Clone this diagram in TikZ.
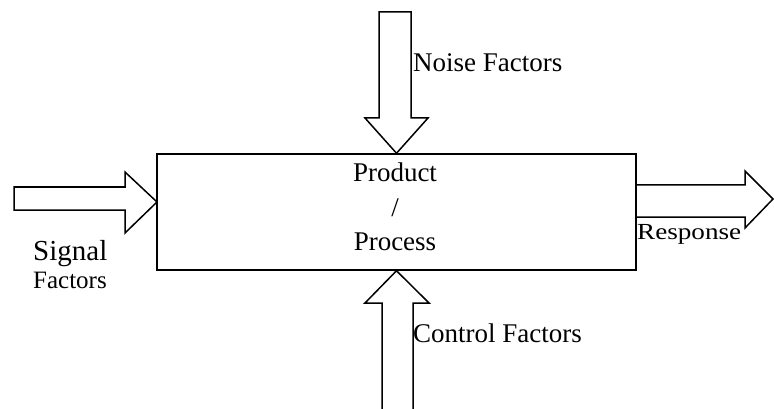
\documentclass[tikz,border=0pt]{standalone}
\usepackage{fontspec}
\setmainfont{Liberation Serif}
\begin{document}
\begin{tikzpicture}[x=1pt,y=-1pt,
  outline/.style={draw, line width=1.5pt, line join=miter},
  lbl/.style={inner sep=0pt, anchor=base west},
  mid/.style={inner sep=0pt, anchor=base},
  big/.style={font=\fontsize{27}{27}\selectfont},
  small/.style={font=\fontsize{25}{25}\selectfont}]
\useasboundingbox (0,0) rectangle (774,409);

% the product / process block
\node[outline, minimum width=479pt, minimum height=116pt, inner sep=0pt] (box) at (396.5,212) {};
\node[mid, big] (prod) at (395,182) {Product};
\node[mid, big] (slash) at (395,216) {/};
\node[mid, big] (proc) at (395,250) {Process};

% noise factors, pressing down from above
\draw[outline] (379,12) -- (411,12) -- (411,118) -- (428,118) -- (box.north)
  -- (365,118) -- (379,118) -- cycle;
\node[lbl, big] (noise) at (413,72) {Noise Factors};

% control factors, pushing up from below
\draw[outline] (382,409) -- (382,303) -- (365,303) -- (box.south)
  -- (429,303) -- (413,303) -- (413,409);
\node[lbl, big] (ctrl) at (413,342) {Control Factors};

% signal factors entering on the left
\coordinate (sigtip) at (157,202);
\draw[outline] (14,187) -- (125,187) -- (125,172) -- (sigtip)
  -- (125,233) -- (125,210) -- (14,210) -- cycle;
\node[lbl, font=\fontsize{29}{29}\selectfont] (sig) at (33,260) {Signal};
\node[lbl, small] (sigf) at (33,288) {Factors};

% response leaving on the right
\coordinate (resptip) at (773,199);
\draw[outline] (636,185) -- (745,185) -- (745,171) -- (resptip)
  -- (745,228) -- (745,217) -- (636,217);
\node[lbl, font=\fontsize{23}{23}\selectfont] (resp) at (637,239) {\scalebox{1.18}[1]{Response}};
\end{tikzpicture}
\end{document}
